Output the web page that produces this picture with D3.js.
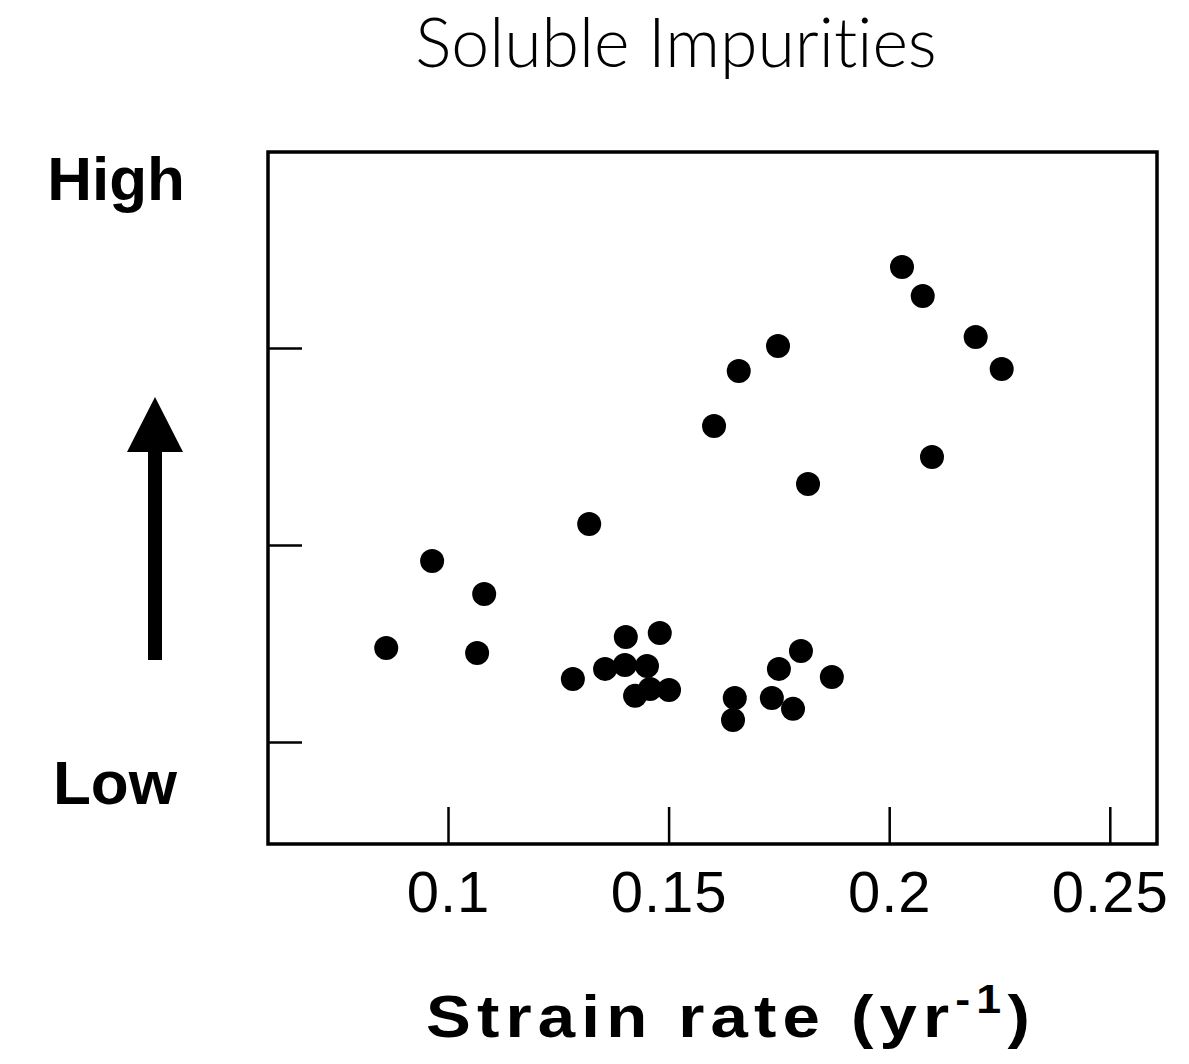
<!DOCTYPE html>
<html>
<head>
<meta charset="utf-8">
<script src="https://cdn.jsdelivr.net/npm/d3@7"></script>
<style>
    body { margin: 0; background: #fff; }
</style>
</head>
<body>
<svg id="impurities_viz"></svg>
<script>
// Strain rate (yr^-1)
const strainRate = [
    0.0860, 0.0964, 0.1082, 0.1066, 0.1320,
    0.1283, 0.1356, 0.1401, 0.1451, 0.1403,
    0.1480, 0.1424, 0.1458, 0.1501, 0.1603,
    0.1659, 0.1748, 0.1816, 0.1800, 0.1750,
    0.1870, 0.1650, 0.1646, 0.1734, 0.1782,
    0.2029, 0.2076, 0.2196, 0.2255, 0.2097
];

// Impurity level, arbitrary units (axis is qualitative: Low -> High)
const impurityLevel = [
    1.477, 1.919, 1.751, 1.452, 2.107,
    1.320, 1.371, 1.391, 1.386, 1.533,
    1.553, 1.234, 1.269, 1.264, 2.604,
    2.883, 3.010, 2.310, 1.462, 1.371,
    1.330, 1.223, 1.112, 1.223, 1.168,
    3.411, 3.264, 3.056, 2.893, 2.447
];

const xTicks = [0.1, 0.15, 0.2, 0.25];
const xTickLabels = ["0.1", "0.15", "0.2", "0.25"];
const yTicks = [1, 2, 3];

/*
 * Global object with dimension data for rendering
 */
const dimensions = {
    width: 1189,
    height: 1064,
    marginLeft: 268,
    marginRight: 32,
    marginTop: 152,
    marginBottom: 220
};

function chart(id) {
    const data = strainRate.map((d, i) => [d, impurityLevel[i]]);

    const svg = d3.select('#' + id)
        .attr("width", dimensions.width)
        .attr("height", dimensions.height);

    const left = dimensions.marginLeft;
    const right = dimensions.width - dimensions.marginRight;
    const top = dimensions.marginTop;
    const bottom = dimensions.height - dimensions.marginBottom;

    let x = d3.scaleLinear()
        .domain([0.0592, 0.2607])
        .range([left, right]);

    let y = d3.scaleLinear()
        .domain([0.482, 3.995])
        .range([bottom, top]);

    // x axis: inward ticks, labels below
    svg.append("g")
        .attr("transform", `translate(0, ${bottom})`)
        .call(d3.axisBottom(x).tickValues(xTicks).tickSize(-37).tickPadding(27)
            .tickFormat((d, i) => xTickLabels[i]))
        .call(g => g.select(".domain").remove())
        .call(g => g.selectAll(".tick line").attr("stroke-width", 2.5))
        .call(g => g.selectAll(".tick text")
            .attr("font-family", "Liberation Sans, Arial, sans-serif")
            .attr("font-size", 58)
            .attr("letter-spacing", 1)
            .attr("fill", "#000"));

    // y axis: inward ticks, no labels
    svg.append("g")
        .attr("transform", `translate(${left}, 0)`)
        .call(d3.axisLeft(y).tickValues(yTicks).tickSize(-34).tickFormat(""))
        .call(g => g.select(".domain").remove())
        .call(g => g.selectAll(".tick line").attr("stroke-width", 2.5));

    // frame
    svg.append("rect")
        .attr("x", left)
        .attr("y", top)
        .attr("width", right - left)
        .attr("height", bottom - top)
        .attr("fill", "none")
        .attr("stroke", "#000")
        .attr("stroke-width", 3.5);

    // points
    svg.append("g")
        .selectAll("circle")
        .data(data)
        .join("circle")
        .attr("cx", d => x(d[0]))
        .attr("cy", d => y(d[1]))
        .attr("r", 12)
        .attr("fill", "#000");

    // title
    svg.append("text")
        .attr("x", 676)
        .attr("y", 67)
        .attr("text-anchor", "middle")
        .style("font-size", "68px")
        .style("font-family", "Lato, 'Helvetica Neue', sans-serif")
        .style("font-weight", 300)
        .style("font-variant-ligatures", "none")
        .text("Soluble Impurities");

    // x axis title (wide bold face, so stretch it a bit)
    const xt = svg.append("text")
        .attr("transform", "translate(731, 1037) scale(1.12, 1)")
        .attr("text-anchor", "middle")
        .style("font-size", "60px")
        .style("font-family", "Liberation Sans, Arial, sans-serif")
        .style("font-weight", "bold")
        .style("letter-spacing", "5.5px");
    xt.append("tspan").text("Strain rate (yr");
    xt.append("tspan").attr("dy", -24).style("font-size", "40px").text("-1");
    xt.append("tspan").attr("dy", 24).text(")");

    // qualitative y labels
    svg.append("text")
        .attr("x", 116)
        .attr("y", 200)
        .attr("text-anchor", "middle")
        .style("font-size", "62px")
        .style("font-family", "Liberation Sans, Arial, sans-serif")
        .style("font-weight", "bold")
        .text("High");

    svg.append("text")
        .attr("x", 115)
        .attr("y", 804)
        .attr("text-anchor", "middle")
        .style("font-size", "62px")
        .style("font-family", "Liberation Sans, Arial, sans-serif")
        .style("font-weight", "bold")
        .text("Low");

    // upward arrow
    svg.append("path")
        .attr("d", "M148,660 L162,660 L162,452 L183,452 L155,397 L127,452 L148,452 Z")
        .attr("fill", "#000");
}

chart("impurities_viz");
</script>
</body>
</html>
